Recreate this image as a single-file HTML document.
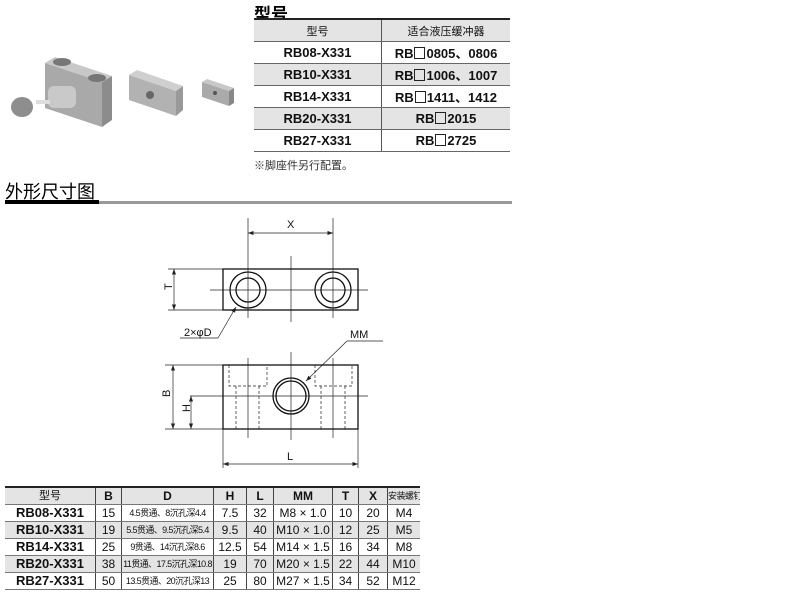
<!DOCTYPE html><html><head><meta charset="utf-8"><style>
body{margin:0;width:800px;height:604px;background:#fff;font-family:"Liberation Sans","Noto Sans CJK SC",sans-serif;position:relative;overflow:hidden}
.a{position:absolute}
table{border-collapse:collapse;position:absolute;table-layout:fixed}
td{padding:0;text-align:center;color:#111;white-space:nowrap;overflow:hidden}
#t1 td{height:21px;font-weight:bold;font-size:13px;border-bottom:1px solid #666}
#t1 td:first-child{border-right:1px solid #555}
#t2 td{height:16px;line-height:16px;font-size:12px;border-right:1px solid #444;border-bottom:1px solid #777}
#t2 td:last-child{border-right:none}
#t2 td.d{font-size:9px;letter-spacing:-0.6px}
.g td{background:#e4e4e4}
.sq{display:inline-block;width:9px;height:10px;border:1px solid #222;vertical-align:-1px;margin:0 1px}
</style></head><body>
<div class="a" style="left:254px;top:0px;font-size:17px;font-weight:bold">型号</div>
<div class="a" style="left:254px;top:18px;width:256px;height:2px;background:#222"></div>
<table id="t1" style="left:254px;top:20px;width:256px">
<tr class="g"><td style="width:127px;font-weight:normal;font-size:11px;height:20px">型号</td><td style="font-weight:normal;font-size:11px">适合液压缓冲器</td></tr>
<tr><td>RB08-X331</td><td>RB<span class="sq"></span>0805、0806</td></tr>
<tr class="g"><td>RB10-X331</td><td>RB<span class="sq"></span>1006、1007</td></tr>
<tr><td>RB14-X331</td><td>RB<span class="sq"></span>1411、1412</td></tr>
<tr class="g"><td>RB20-X331</td><td>RB<span class="sq"></span>2015</td></tr>
<tr><td>RB27-X331</td><td>RB<span class="sq"></span>2725</td></tr>
</table>
<div class="a" style="left:254px;top:157px;font-size:11px;color:#333">※脚座件另行配置。</div>
<div class="a" style="left:5px;top:178px;font-size:18px">外形尺寸图</div>
<div class="a" style="left:5px;top:200px;width:94px;height:4px;background:#000"></div>
<div class="a" style="left:99px;top:201px;width:413px;height:3px;background:#999"></div>
<svg class="a" style="left:0;top:0" width="250" height="140">
<polygon points="45,63 55,57 112,76 102,82" fill="#c8c8c8"/>
<polygon points="45,63 102,82 102,127 45,108" fill="#a9a9a9"/>
<polygon points="102,82 112,76 112,120 102,127" fill="#8c8c8c"/>
<ellipse cx="62" cy="62" rx="9" ry="4" fill="#777"/><ellipse cx="97" cy="78" rx="9" ry="4" fill="#777"/>
<rect x="48" y="86" width="28" height="22" rx="6" fill="#c9c9c9"/>
<rect x="36" y="100" width="14" height="4" fill="#ddd"/>
<ellipse cx="22" cy="107" rx="11" ry="10" fill="#8e8e8e"/>
<polygon points="129,75 137,70 183,86 176,91" fill="#cfcfcf"/>
<polygon points="129,75 176,91 176,116 129,100" fill="#b2b2b2"/>
<polygon points="176,91 183,86 183,110 176,116" fill="#999"/>
<circle cx="150" cy="95" r="4" fill="#666"/>
<polygon points="202,82 207,79 234,88 229,91" fill="#c8c8c8"/>
<polygon points="202,82 229,91 229,106 202,97" fill="#aaa"/>
<polygon points="229,91 234,88 234,103 229,106" fill="#888"/>
<circle cx="215" cy="93" r="2" fill="#555"/>
</svg>
<svg class="a" style="left:0;top:0" width="420" height="480" font-family="Liberation Sans" font-size="11">
<defs><marker id="ar" markerWidth="8" markerHeight="6" refX="8" refY="3" orient="auto-start-reverse"><path d="M0,0L8,3L0,6z" fill="#222"/></marker></defs>
<g stroke="#222" fill="none" stroke-width="0.7">
<line x1="248" y1="218" x2="248" y2="318"/><line x1="333" y1="218" x2="333" y2="318"/>
<line x1="248" y1="233" x2="333" y2="233" marker-start="url(#ar)" marker-end="url(#ar)"/>
<line x1="291" y1="256" x2="291" y2="322"/>
<line x1="210" y1="290" x2="368" y2="290"/>
<line x1="168" y1="269" x2="223" y2="269"/><line x1="168" y1="310" x2="223" y2="310"/>
<line x1="174" y1="269" x2="174" y2="310" marker-start="url(#ar)" marker-end="url(#ar)"/>
<line x1="236" y1="307" x2="218" y2="338" marker-start="url(#ar)"/><line x1="218" y1="338" x2="180" y2="338"/>
<line x1="248" y1="358" x2="248" y2="438"/><line x1="333" y1="358" x2="333" y2="438"/>
<line x1="291" y1="352" x2="291" y2="440"/>
<line x1="190" y1="396" x2="368" y2="396"/>
<line x1="165" y1="365" x2="223" y2="365"/><line x1="165" y1="429" x2="223" y2="429"/>
<line x1="173" y1="365" x2="173" y2="429" marker-start="url(#ar)" marker-end="url(#ar)"/>
<line x1="191" y1="396" x2="191" y2="429" marker-start="url(#ar)" marker-end="url(#ar)"/>
<line x1="223" y1="429" x2="223" y2="468"/><line x1="358" y1="429" x2="358" y2="468"/>
<line x1="223" y1="464" x2="358" y2="464" marker-start="url(#ar)" marker-end="url(#ar)"/>
<line x1="383" y1="341" x2="347" y2="341"/><line x1="347" y1="341" x2="306" y2="381" marker-end="url(#ar)"/>
<g stroke-dasharray="3,2"><path d="M229 365V386H267V365M236 386V429M259 386V429M315 365V386H352V365M321 386V429M345 386V429"/></g>
</g>
<g stroke="#111" fill="none" stroke-width="1.3">
<rect x="223" y="269" width="135" height="41"/>
<circle cx="248" cy="290" r="18"/><circle cx="248" cy="290" r="12"/>
<circle cx="333" cy="290" r="18"/><circle cx="333" cy="290" r="12"/>
<rect x="223" y="365" width="135" height="64"/>
<circle cx="291" cy="396" r="18"/><circle cx="291" cy="396" r="15"/>
</g>
<g fill="#111">
<text x="287" y="228">X</text><text x="168" y="294" transform="rotate(-90 168 290)">T</text>
<text x="184" y="336">2×φD</text><text x="350" y="338">MM</text>
<text x="167" y="400" transform="rotate(-90 167 397)">B</text>
<text x="186" y="416" transform="rotate(-90 186 412)">H</text>
<text x="287" y="460">L</text>
</g></svg>
<div class="a" style="left:5px;top:486px;width:415px;height:2px;background:#222"></div>
<table id="t2" style="left:5px;top:488px;width:415px">
<tr class="g"><td style="width:90px;font-size:11px">型号</td><td style="width:25px;font-weight:bold">B</td><td style="width:91px;font-weight:bold">D</td><td style="width:32px;font-weight:bold">H</td><td style="width:26px;font-weight:bold">L</td><td style="width:58px;font-weight:bold">MM</td><td style="width:25px;font-weight:bold">T</td><td style="width:28px;font-weight:bold">X</td><td style="font-size:9px;letter-spacing:-0.5px">安装螺钉</td></tr>
<tr><td style="font-weight:bold;font-size:13px">RB08-X331</td><td>15</td><td class="d">4.5贯通、8沉孔深4.4</td><td>7.5</td><td>32</td><td>M8 × 1.0</td><td>10</td><td>20</td><td>M4</td></tr>
<tr class="g"><td style="font-weight:bold;font-size:13px">RB10-X331</td><td>19</td><td class="d">5.5贯通、9.5沉孔深5.4</td><td>9.5</td><td>40</td><td>M10 × 1.0</td><td>12</td><td>25</td><td>M5</td></tr>
<tr><td style="font-weight:bold;font-size:13px">RB14-X331</td><td>25</td><td class="d">9贯通、14沉孔深8.6</td><td>12.5</td><td>54</td><td>M14 × 1.5</td><td>16</td><td>34</td><td>M8</td></tr>
<tr class="g"><td style="font-weight:bold;font-size:13px">RB20-X331</td><td>38</td><td class="d">11贯通、17.5沉孔深10.8</td><td>19</td><td>70</td><td>M20 × 1.5</td><td>22</td><td>44</td><td>M10</td></tr>
<tr><td style="font-weight:bold;font-size:13px">RB27-X331</td><td>50</td><td class="d">13.5贯通、20沉孔深13</td><td>25</td><td>80</td><td>M27 × 1.5</td><td>34</td><td>52</td><td>M12</td></tr>
</table>
</body></html>
